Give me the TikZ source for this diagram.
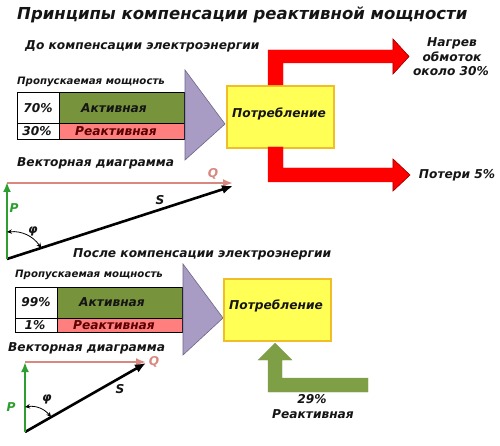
\documentclass[tikz,border=0pt]{standalone}
\usepackage{fontspec}
\setmainfont{DejaVu Sans}
\usetikzlibrary{arrows.meta,calc}
\definecolor{actgreen}{HTML}{77933C}
\definecolor{reactpink}{HTML}{FF7F7F}
\definecolor{triviolet}{HTML}{A89CC4}
\definecolor{tririm}{HTML}{6E6585}
\definecolor{consyellow}{HTML}{FFFF55}
\definecolor{consrim}{HTML}{F0BE28}
\definecolor{qred}{HTML}{D98880}
\definecolor{pgreen}{HTML}{2E9E30}
\definecolor{comparrow}{HTML}{7F9F46}
\definecolor{lossred}{HTML}{FF0000}
\definecolor{lossrim}{HTML}{A00000}
\definecolor{reacttext}{HTML}{5A0000}
\definecolor{txt}{HTML}{151515}
\tikzset{
  every node/.style={font=\bfseries\itshape, text=txt, inner sep=0pt},
  ttl/.style={font=\fontsize{16.5}{19}\bfseries\itshape\selectfont},
  hdr/.style={font=\fontsize{12.2}{14}\bfseries\itshape\selectfont},
  small/.style={font=\fontsize{10.2}{12}\bfseries\itshape\selectfont},
  tbl/.style={font=\fontsize{12.2}{14}\bfseries\itshape\selectfont},
  cell/.style={draw=black, line width=1.4pt, rectangle, anchor=north west},
  tri/.style={fill=triviolet, draw=tririm, line width=0.6pt},
  consbox/.style={draw=consrim, fill=consyellow, line width=1.6pt, rectangle, anchor=north west},
  vecP/.style={draw=pgreen, line width=2.6pt, -{Latex[length=10pt,width=8pt]}},
  vecQ/.style={draw=qred, line width=2pt, -{Latex[length=10pt,width=8pt]}},
  vecS/.style={draw=black, line width=2.6pt, -{Latex[length=11pt,width=9pt]}},
  angarc/.style={draw=black, line width=0.8pt, {Stealth[length=5pt,width=4.5pt]}-{Stealth[length=5pt,width=4.5pt]}},
  lossarrow/.style={fill=lossred, draw=lossred, line width=0.3pt},
  comparrowstyle/.style={fill=comparrow, draw=comparrow, line width=0.3pt},
}
\begin{document}
\begin{tikzpicture}[x=1pt,y=-1pt]
\useasboundingbox (0,0) rectangle (500,446);
\fill[white] (0,0) rectangle (500,446);

% title
\node[ttl, anchor=base west] (title) at (17,20) {Принципы компенсации реактивной мощности};

% ===== top section =====
\node[hdr, anchor=base west] (hdrA) at (25,50) {До компенсации электроэнергии};
\node[small, anchor=base west] (passA) at (17,85) {Пропускаемая мощность};

\node[cell, fill=white, minimum width=42pt, minimum height=31pt] (a11) at (17,92) {};
\node[cell, fill=actgreen, minimum width=125pt, minimum height=31pt] (a12) at (59,92) {};
\node[cell, fill=white, minimum width=42pt, minimum height=16pt] (a21) at (17,123) {};
\node[cell, fill=reactpink, minimum width=125pt, minimum height=16pt] (a22) at (59,123) {};
\node[tbl] (a11t) at (38,108) {70\%};
\node[tbl] (a12t) at (114,108) {Активная};
\node[tbl] (a21t) at (37,131) {30\%};
\node[tbl, text=reacttext] (a22t) at (116,131) {Реактивная};

\path[tri] (185,70) -- (185,160) -- (225,124) -- cycle;
\node[consbox, minimum width=107pt, minimum height=62pt] (consA) at (226,85) {};
\node[tbl] (consAt) at (279,114) {Потребление};

% red arrows
\path[lossarrow] (268,85) -- (268,50) -- (393,50) -- (393,39) -- (409,56.5) -- (393,74) -- (393,63) -- (283,63) -- (283,85) -- cycle;
\draw[lossrim, line width=0.6pt] (393,50) -- (393,39) -- (409,56.5) -- (393,74) -- (393,63);
\path[lossarrow] (268,147) -- (268,182) -- (393,182) -- (393,191) -- (410,175) -- (393,159) -- (393,168) -- (283,168) -- (283,147) -- cycle;
\draw[lossrim, line width=0.6pt] (393,168) -- (393,159) -- (410,175) -- (393,191) -- (393,182);

\node[hdr, anchor=base] (heat1) at (452,47) {Нагрев};
\node[hdr, anchor=base] (heat2) at (452,62) {обмоток};
\node[hdr, anchor=base] (heat3) at (451,76) {около 30\%};
\node[hdr, anchor=base] (loss) at (457,179) {Потери 5\%};

% vector diagram top
\node[hdr, anchor=base west] (vecA) at (17,167) {Векторная диаграмма};
\coordinate (OA) at (7,259);
\coordinate (PA) at (7,182);
\coordinate (QA0) at (7,183);
\coordinate (QA) at (233,183);
\coordinate (SA) at (233,186);
\draw[vecQ] (QA0) -- (QA);
\draw[vecS] (OA) -- (SA);
\draw[vecP] (OA) -- (PA);
\draw[angarc] ($(OA)!27pt!(PA)$) to[bend left=30] ($(OA)!36pt!(SA)$);
\node[hdr, text=qred] (QAl) at (213,174) {Q};
\node[hdr, text=pgreen] (PAl) at (14,208) {P};
\node[hdr] (SAl) at (160,200) {S};
\node[hdr] (phiA) at (33,231) {φ};

% ===== bottom section =====
\node[hdr, anchor=base west] (hdrB) at (73,258) {После компенсации электроэнергии};
\node[small, anchor=base west] (passB) at (15,277) {Пропускаемая мощность};

\node[cell, fill=white, minimum width=42pt, minimum height=31pt] (b11) at (15,287) {};
\node[cell, fill=actgreen, minimum width=125pt, minimum height=31pt] (b12) at (57,287) {};
\node[cell, fill=white, minimum width=42pt, minimum height=14pt] (b21) at (15,318) {};
\node[cell, fill=reactpink, minimum width=125pt, minimum height=14pt] (b22) at (57,318) {};
\node[tbl] (b11t) at (36,302) {99\%};
\node[tbl] (b12t) at (112,302) {Активная};
\node[tbl] (b21t) at (35,325) {1\%};
\node[tbl, text=reacttext] (b22t) at (114,325) {Реактивная};

\path[tri] (183,264) -- (183,355) -- (223,318) -- cycle;
\node[consbox, minimum width=107pt, minimum height=62pt] (consB) at (223,278) {};
\node[tbl] (consBt) at (276,306) {Потребление};

% compensation arrow
\path[comparrowstyle] (368,378) -- (282,378) -- (282,360) -- (292,360) -- (275,343) -- (258,360) -- (268,360) -- (268,392) -- (368,392) -- cycle;
\node[hdr, anchor=base] (compA) at (312,403) {29\%};
\node[hdr, anchor=base] (compB) at (313,418) {Реактивная};

% vector diagram bottom
\node[hdr, anchor=base west] (vecB) at (8,351) {Векторная диаграмма};
\coordinate (OB) at (25,432);
\coordinate (PB) at (25,362);
\coordinate (QB0) at (25,362);
\coordinate (QB) at (146,362);
\coordinate (SB) at (146,363);
\draw[vecQ] (QB0) -- (QB);
\draw[vecS] (OB) -- (SB);
\draw[vecP] (OB) -- (PB);
\draw[angarc] ($(OB)!25pt!(PB)$) to[bend left=30] ($(OB)!30pt!(SB)$);
\node[hdr, text=qred] (QBl) at (154,362) {Q};
\node[hdr, text=pgreen] (PBl) at (11,407) {P};
\node[hdr] (SBl) at (120,389) {S};
\node[hdr] (phiB) at (47,399) {φ};
\end{tikzpicture}
\end{document}
